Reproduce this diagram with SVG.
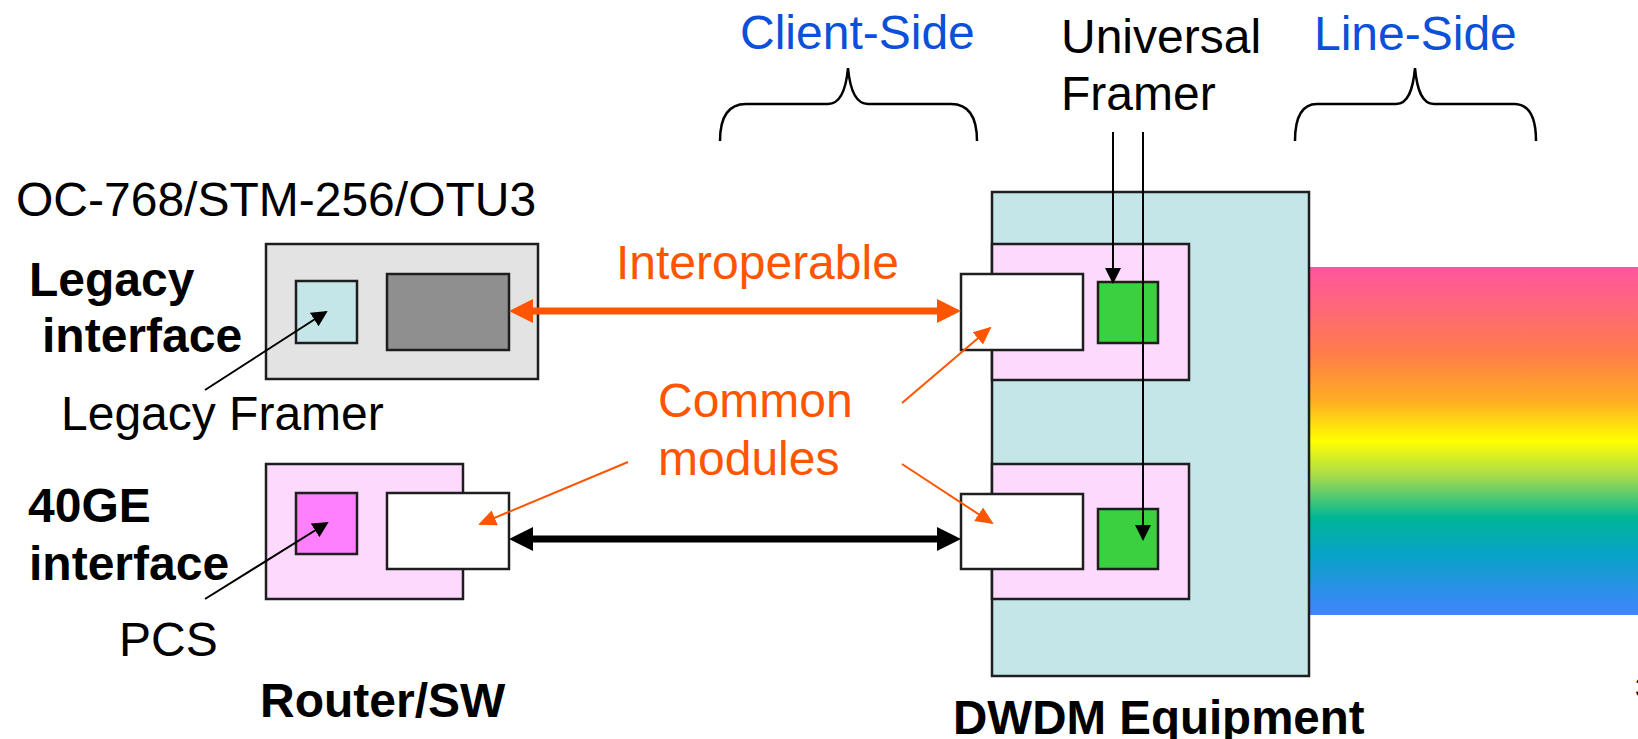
<svg xmlns="http://www.w3.org/2000/svg" width="1638" height="739" viewBox="0 0 1638 739">
  <defs>
    <style>
      .t { font-family: "Liberation Sans", Arial, sans-serif; font-size: 48px; fill: #000; }
      .b { font-weight: bold; }
      .blue { fill: #0B50D8; }
      .orange { fill: #FF5500; }
      .box { stroke: #1e1e1e; stroke-width: 2.5; }
      .brace { fill: none; stroke: #000; stroke-width: 2.5; }
      .thin { fill: none; stroke: #000; stroke-width: 2; }
      .othin { fill: none; stroke: #FF5500; stroke-width: 2; }
    </style>
    <marker id="headBlack" markerUnits="userSpaceOnUse" markerWidth="24" markerHeight="24" refX="4" refY="12" orient="auto-start-reverse">
      <path d="M0,0 L24,12 L0,24 z" fill="#000"/>
    </marker>
    <marker id="headOrange" markerUnits="userSpaceOnUse" markerWidth="24" markerHeight="24" refX="4" refY="12" orient="auto-start-reverse">
      <path d="M0,0 L24,12 L0,24 z" fill="#FF5500"/>
    </marker>
    <marker id="tipBlack" markerUnits="userSpaceOnUse" markerWidth="16" markerHeight="16" refX="14" refY="8" orient="auto">
      <path d="M0,0 L16,8 L0,16 z" fill="#000"/>
    </marker>
    <marker id="tipOrange" markerUnits="userSpaceOnUse" markerWidth="18" markerHeight="16" refX="16" refY="8" orient="auto">
      <path d="M0,0 L18,8 L0,16 z" fill="#FF5500"/>
    </marker>
    <linearGradient id="spectrum" x1="0" y1="0" x2="0" y2="1">
      <stop offset="0" stop-color="#FF559F"/>
      <stop offset="0.12" stop-color="#FF6878"/>
      <stop offset="0.25" stop-color="#FF7D48"/>
      <stop offset="0.38" stop-color="#FFAA25"/>
      <stop offset="0.5" stop-color="#FFFF00"/>
      <stop offset="0.6" stop-color="#A8DC4C"/>
      <stop offset="0.72" stop-color="#00B696"/>
      <stop offset="0.82" stop-color="#06A4C4"/>
      <stop offset="1" stop-color="#4284FF"/>
    </linearGradient>
  </defs>

  <rect width="1638" height="739" fill="#fff"/>

  <!-- Side labels and braces -->
  <g id="client-side">
    <text class="t blue" x="740" y="49">Client-Side</text>
    <path class="brace" d="M720,141 C720,116 729,104 746,104 L828,104 C840,104 846,90 848,68 C850,90 856,104 868,104 L951,104 C968,104 977,116 977,141"/>
  </g>
  <g id="line-side">
    <text class="t blue" x="1314" y="50">Line-Side</text>
    <path class="brace" d="M1295,141 C1295,116 1303,104 1317,104 L1396,104 C1408,104 1413,90 1415,68 C1417,90 1422,104 1434,104 L1514,104 C1528,104 1536,116 1536,141"/>
  </g>
  <g id="universal-framer-label">
    <text class="t" x="1061" y="53">Universal</text>
    <text class="t" x="1061" y="110">Framer</text>
  </g>

  <!-- Line-side fibre (WDM spectrum) -->
  <g id="spectrum-band">
    <rect x="1309" y="267" width="329" height="348" fill="url(#spectrum)"/>
  </g>

  <!-- Legacy interface -->
  <g id="legacy-interface">
    <text class="t" x="16" y="216">OC-768/STM-256/OTU3</text>
    <text class="t b" x="29" y="296">Legacy</text>
    <text class="t b" x="42" y="352">interface</text>
    <rect class="box" x="266" y="244" width="272" height="135" fill="#E3E3E3"/>
    <rect id="legacy-framer" class="box" x="296" y="281" width="61" height="62" fill="#C5E6E8"/>
    <rect id="legacy-module" class="box" x="387" y="274" width="122" height="76" fill="#8F8F8F"/>
    <text class="t" x="61" y="430">Legacy Framer</text>
  </g>

  <!-- 40GE router/switch interface -->
  <g id="router-interface">
    <text class="t b" x="28" y="522">40GE</text>
    <text class="t b" x="29" y="580">interface</text>
    <rect class="box" x="266" y="464" width="197" height="135" fill="#FDD9FD"/>
    <rect id="pcs" class="box" x="296" y="493" width="61" height="61" fill="#FF80FF"/>
    <rect id="router-module" class="box" x="387" y="493" width="122" height="76" fill="#FFFFFF"/>
    <text class="t" x="119" y="656">PCS</text>
    <text class="t b" x="260" y="717">Router/SW</text>
  </g>

  <!-- DWDM equipment -->
  <g id="dwdm-equipment">
    <rect class="box" x="992" y="192" width="317" height="484" fill="#C5E6E8"/>
    <rect class="box" x="992" y="244" width="197" height="136" fill="#FDD9FD"/>
    <rect id="dwdm-module-1" class="box" x="961" y="274" width="122" height="76" fill="#FFFFFF"/>
    <rect id="framer-1" class="box" x="1098" y="282" width="60" height="61" fill="#3AD040"/>
    <rect class="box" x="992" y="464" width="197" height="135" fill="#FDD9FD"/>
    <rect id="dwdm-module-2" class="box" x="961" y="494" width="122" height="75" fill="#FFFFFF"/>
    <rect id="framer-2" class="box" x="1098" y="509" width="60" height="60" fill="#3AD040"/>
    <text class="t b" x="953" y="734" style="font-size:47.5px">DWDM Equipment</text>
  </g>

  <!-- Annotation labels -->
  <g id="interop-label">
    <text class="t orange" x="616" y="279">Interoperable</text>
  </g>
  <g id="common-label">
    <text class="t orange" x="658" y="417">Common</text>
    <text class="t orange" x="658" y="475">modules</text>
  </g>

  <!-- Page number, clipped at the edge -->
  <text class="t" x="1635" y="697" style="font-size:28px">3</text>

  <!-- Connectors -->
  <g id="connectors">
    <line x1="529" y1="311" x2="941" y2="311" stroke="#FF5500" stroke-width="7" marker-start="url(#headOrange)" marker-end="url(#headOrange)"/>
    <line x1="529" y1="539" x2="941" y2="539" stroke="#000" stroke-width="7" marker-start="url(#headBlack)" marker-end="url(#headBlack)"/>
    <line class="thin" x1="205" y1="390" x2="326" y2="312" marker-end="url(#tipBlack)"/>
    <line class="thin" x1="205" y1="599" x2="327" y2="523" marker-end="url(#tipBlack)"/>
    <line class="thin" x1="1113" y1="132" x2="1113" y2="282" marker-end="url(#tipBlack)"/>
    <line class="thin" x1="1143" y1="132" x2="1143" y2="539" marker-end="url(#tipBlack)"/>
    <line class="othin" x1="902" y1="403" x2="990" y2="328" marker-end="url(#tipOrange)"/>
    <line class="othin" x1="902" y1="464" x2="992" y2="523" marker-end="url(#tipOrange)"/>
    <line class="othin" x1="628" y1="462" x2="480" y2="524" marker-end="url(#tipOrange)"/>
  </g>
</svg>
